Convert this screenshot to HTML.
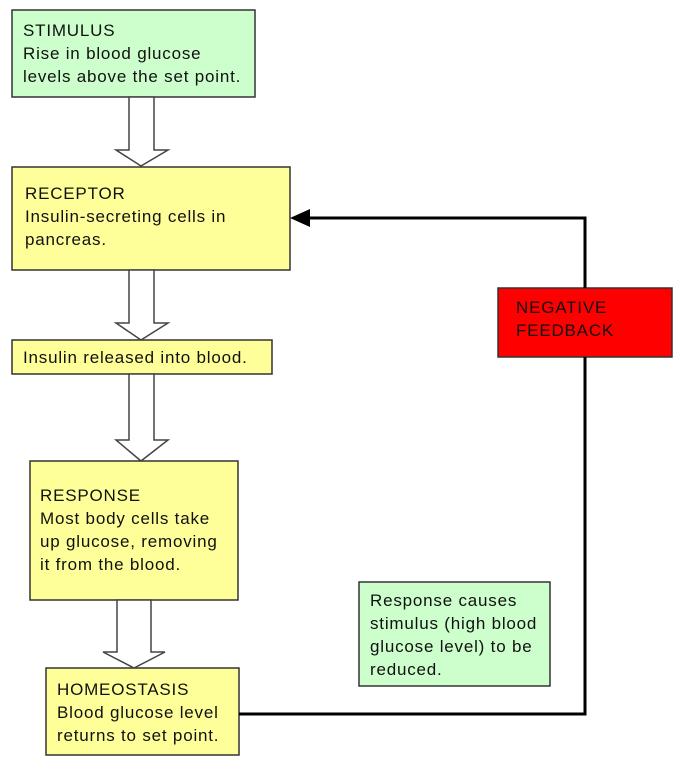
<!DOCTYPE html>
<html><head><meta charset="utf-8"><style>
body{margin:0;background:#fff;}
svg text{font-family:"Liberation Sans",Arial,sans-serif;font-size:17px;letter-spacing:0.8px;fill:#111;}
</style></head><body>
<svg width="682" height="764" viewBox="0 0 682 764" xmlns="http://www.w3.org/2000/svg">
<g stroke="#333" stroke-width="1.5">
<rect x="12" y="10" width="243" height="87" fill="#ccffcc"/>
<rect x="12" y="167" width="278" height="103" fill="#ffff99"/>
<rect x="12" y="340" width="260" height="34" fill="#ffff99"/>
<rect x="30" y="461" width="208" height="139" fill="#ffff99"/>
<rect x="46" y="668" width="193" height="87" fill="#ffff99"/>
<rect x="359" y="582" width="191" height="104" fill="#ccffcc"/>
<rect x="498" y="288" width="174" height="69" fill="#ff0000"/>
</g>
<g fill="#fff" stroke="#444" stroke-width="1.5">
<polygon points="129,97 154,97 154,150 168,150 141,166 116,150 129,150"/>
<polygon points="129,270 154,270 154,323 168,323 141,340 116,323 129,323"/>
<polygon points="129,374 154,374 154,440 168,440 141,461 116,440 129,440"/>
<polygon points="117,600 151,600 151,652 165,652 134,668 103,652 117,652"/>
</g>
<g fill="none" stroke="#000" stroke-width="3">
<polyline points="239,714 585,714 585,357"/>
<polyline points="585,288 585,218 305,218"/>
</g>
<polygon points="290,218 310,209 310,227" fill="#000"/>
<text x="23" y="36">STIMULUS</text>
<text x="23" y="59">Rise in blood glucose</text>
<text x="23" y="82">levels above the set point.</text>
<text x="25" y="199">RECEPTOR</text>
<text x="25" y="222">Insulin-secreting cells in</text>
<text x="25" y="245">pancreas.</text>
<text x="23" y="363">Insulin released into blood.</text>
<text x="40" y="501">RESPONSE</text>
<text x="40" y="524">Most body cells take</text>
<text x="40" y="547">up glucose, removing</text>
<text x="40" y="570">it from the blood.</text>
<text x="57" y="695">HOMEOSTASIS</text>
<text x="57" y="718">Blood glucose level</text>
<text x="57" y="741">returns to set point.</text>
<text x="370" y="606">Response causes</text>
<text x="370" y="629">stimulus (high blood</text>
<text x="370" y="652">glucose level) to be</text>
<text x="370" y="675">reduced.</text>
<text x="516" y="313">NEGATIVE</text>
<text x="516" y="336">FEEDBACK</text>
</svg>
</body></html>
